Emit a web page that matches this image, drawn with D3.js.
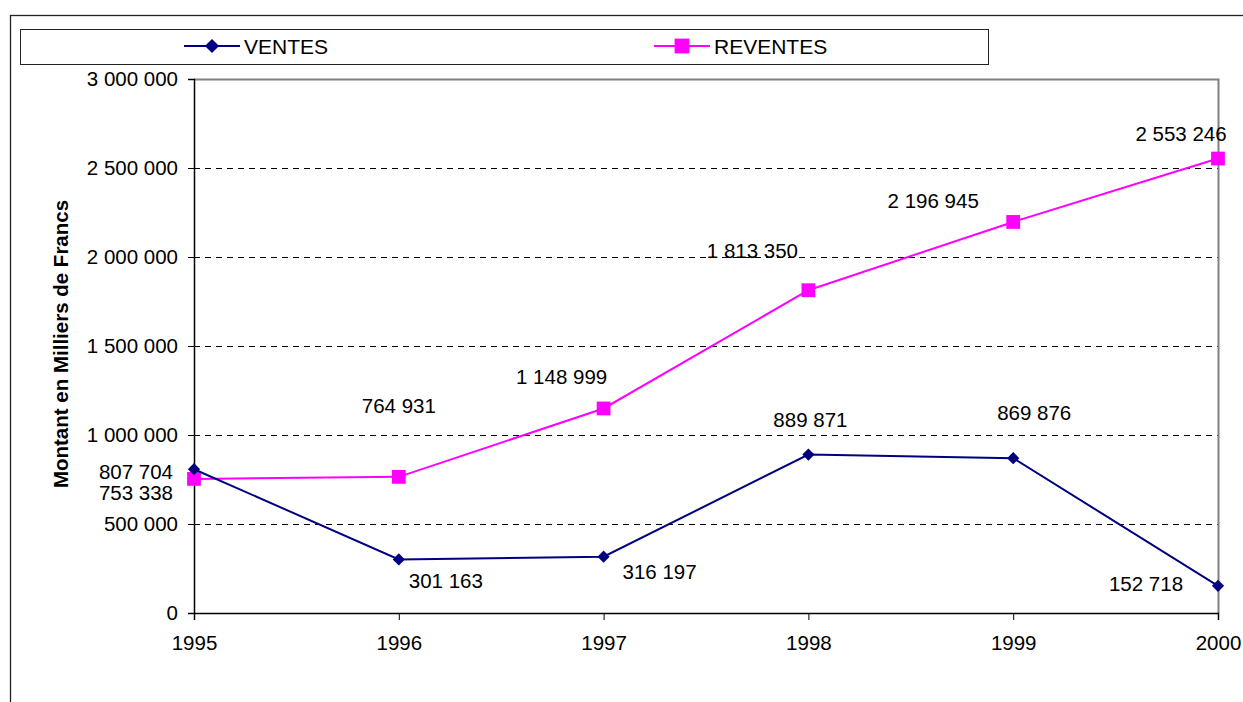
<!DOCTYPE html>
<html>
<head>
<meta charset="utf-8">
<script src="https://cdn.jsdelivr.net/npm/d3@7"></script>
<style>
  body { margin: 0; background: #fff; }
  text { font-family: "Liberation Sans", Arial, sans-serif; }
</style>
</head>
<body>
<div id="chart"></div>
<script>
// data
let years = ["1995", "1996", "1997", "1998", "1999", "2000"]
let ventes = [807704, 301163, 316197, 889871, 869876, 152718]
let reventes = [753338, 764931, 1148999, 1813350, 2196945, 2553246]
let yTicks = [0, 500000, 1000000, 1500000, 2000000, 2500000, 3000000]

// label offsets (dx, dy, anchor) as placed in the original
let ventesLabelPos = [[-21, 10, "end"], [47, 29, "middle"], [56, 22, "middle"], [2, -28, "middle"], [21, -38, "middle"], [-72, 5, "middle"]]
let reventesLabelPos = [[-21, 21, "end"], [0, -64, "middle"], [-42, -24, "middle"], [-56, -32, "middle"], [-80, -14, "middle"], [-37, -18, "middle"]]

let W = 1243, H = 702
let FS = 20.5
let svg = d3.select("#chart").append("svg")
  .attr("width", W)
  .attr("height", H)

// outer chart border
svg.append("rect")
  .attr("x", 10.5).attr("y", 15.5)
  .attr("width", W).attr("height", H)
  .attr("fill", "none").attr("stroke", "#222").attr("stroke-width", 1.3)

let pLeft = 194, pRight = 1218, pTop = 79, pBottom = 613

let x = d3.scalePoint().domain(years).range([pLeft, pRight])
let y = d3.scaleLinear().domain([0, 3000000]).range([pBottom, pTop])

let fmt = v => d3.format(",")(v).replace(/,/g, " ")

// gridlines
svg.append("g").selectAll("line")
  .data(yTicks.filter(d => d > 0 && d < 3000000))
  .enter().append("line")
  .attr("x1", pLeft).attr("x2", pRight)
  .attr("y1", d => y(d) + 0.5).attr("y2", d => y(d) + 0.5)
  .attr("stroke", "#000").attr("stroke-dasharray", "6,5").attr("stroke-width", 1)

// plot area border (top/right grey)
svg.append("path")
  .attr("d", `M${pLeft},${pTop + 0.5}H${pRight + 0.5}V${pBottom}`)
  .attr("fill", "none").attr("stroke", "#808080").attr("stroke-width", 2)

// axes
let yAxis = d3.axisLeft(y).tickValues(yTicks).tickFormat(fmt).tickSize(6).tickPadding(10)
let gy = svg.append("g").attr("transform", `translate(${pLeft},0)`).call(yAxis)
let xAxis = d3.axisBottom(x).tickSize(7).tickPadding(15)
let gx = svg.append("g").attr("transform", `translate(0,${pBottom})`).call(xAxis)

for (let g of [gx, gy]) {
  g.select(".domain").attr("stroke", "#000").attr("stroke-width", 1.5)
  g.selectAll(".tick line").attr("stroke", "#000")
  g.selectAll("text").attr("font-size", FS).attr("fill", "#000")
    .attr("font-family", "'Liberation Sans', Arial, sans-serif")
}

// y title
svg.append("text")
  .attr("transform", `translate(68,344) rotate(-90)`)
  .attr("text-anchor", "middle")
  .attr("font-size", FS).attr("font-weight", "bold")
  .text("Montant en Milliers de Francs")

let line = d3.line().x((d, i) => x(years[i])).y(d => y(d))

let diamond = d3.symbol().type(d3.symbolDiamond2).size(95)
let square = d3.symbol().type(d3.symbolSquare).size(190)

function drawSeries(values, color, sym, labelPos) {
  svg.append("path").datum(values)
    .attr("d", line).attr("fill", "none")
    .attr("stroke", color).attr("stroke-width", 2)
  svg.append("g").selectAll("path")
    .data(values).enter().append("path")
    .attr("d", sym)
    .attr("transform", (d, i) => `translate(${x(years[i])},${y(d)})`)
    .attr("fill", color)
  svg.append("g").selectAll("text")
    .data(values).enter().append("text")
    .attr("x", (d, i) => x(years[i]) + labelPos[i][0])
    .attr("y", (d, i) => y(d) + labelPos[i][1])
    .attr("text-anchor", (d, i) => labelPos[i][2])
    .attr("font-size", FS).attr("fill", "#000")
    .text(d => fmt(d))
}

drawSeries(reventes, "#ff00ff", square, reventesLabelPos)
drawSeries(ventes, "#000080", diamond, ventesLabelPos)

// legend
svg.append("rect")
  .attr("x", 20.5).attr("y", 29.5).attr("width", 968).attr("height", 35)
  .attr("fill", "#fff").attr("stroke", "#222").attr("stroke-width", 1)

let legend = [
  { name: "VENTES", color: "#000080", sym: d3.symbol().type(d3.symbolDiamond2).size(128), x: 184 },
  { name: "REVENTES", color: "#ff00ff", sym: d3.symbol().type(d3.symbolSquare).size(220), x: 654 }
]
let lg = svg.append("g").selectAll("g").data(legend).enter().append("g")
  .attr("transform", d => `translate(${d.x},46)`)
lg.append("line").attr("x1", 0).attr("x2", 56).attr("stroke", d => d.color).attr("stroke-width", 2)
lg.append("path").attr("d", d => d.sym()).attr("transform", "translate(28,0)").attr("fill", d => d.color)
lg.append("text").attr("x", 60).attr("y", 8).attr("font-size", 21).text(d => d.name)
</script>
</body>
</html>
